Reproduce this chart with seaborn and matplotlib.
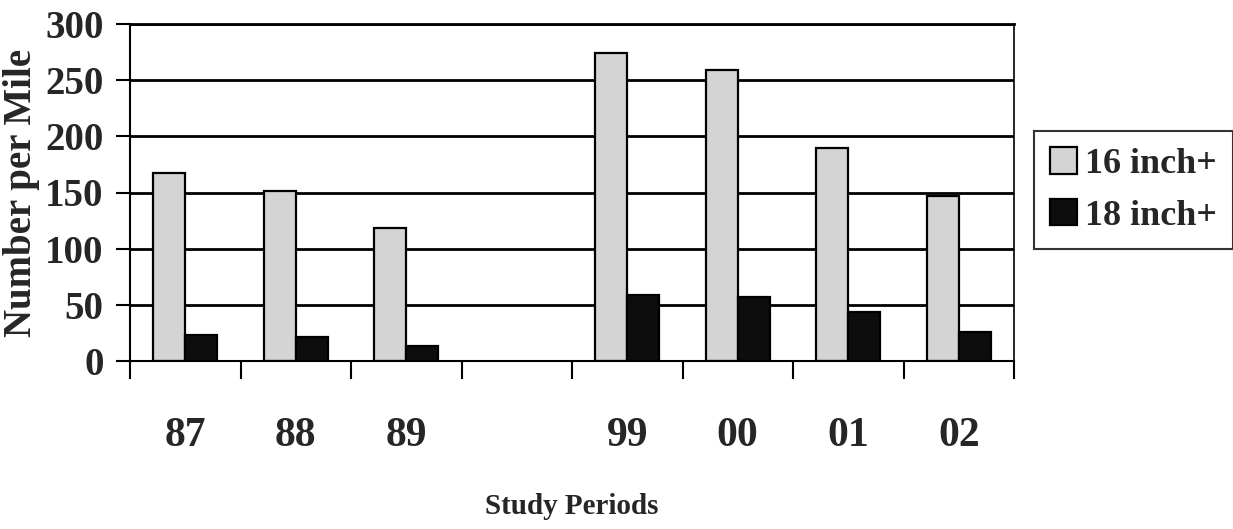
import numpy as np
import pandas as pd
import matplotlib
matplotlib.use("Agg")
import matplotlib.pyplot as plt
import seaborn as sns
from matplotlib.ticker import FixedLocator

# Study periods (blank slot separates the two survey eras)
periods = ["87", "88", "89", "", "99", "00", "01", "02"]
fish_16 = [167, 151, 118, np.nan, 274, 259, 190, 147]
fish_18 = [23, 21, 13, np.nan, 59, 57, 44, 26]
series = ["16 inch+", "18 inch+"]
y_ticks = [0, 50, 100, 150, 200, 250, 300]

df = pd.DataFrame({
    "period": periods * 2,
    "value": fish_16 + fish_18,
    "size": [series[0]] * len(periods) + [series[1]] * len(periods),
})

sns.set_theme(style="white")
plt.rcParams["font.family"] = ["Liberation Serif", "DejaVu Serif"]
plt.rcParams["font.weight"] = "bold"

fig = plt.figure(figsize=(12.33, 5.29), dpi=100)
ax = fig.add_axes([130 / 1233, 1 - 361 / 529, (1014 - 130) / 1233, (361 - 24) / 529])

sns.barplot(
    data=df, x="period", y="value", hue="size", order=periods, hue_order=series,
    palette=["#d4d4d4", "#0d0d0d"], width=0.58, ax=ax, errorbar=None,
    edgecolor="black", linewidth=1.6, saturation=1,
)

ax.set_ylim(0, 300)
ax.set_xlim(-0.5, len(periods) - 0.5)
ax.set_yticks(y_ticks)
ax.yaxis.grid(True, color="black", linewidth=2)
ax.set_axisbelow(True)

for side in ["left", "bottom", "right", "top"]:
    ax.spines[side].set_visible(True)
    ax.spines[side].set_color("black")
ax.spines["left"].set_linewidth(1.5)
ax.spines["bottom"].set_linewidth(1.5)
ax.spines["right"].set_linewidth(1.2)
ax.spines["top"].set_linewidth(2)

ax.tick_params(axis="y", which="major", length=10, width=1.5, direction="out",
               left=True, pad=9, labelsize=28, color="black")
ax.tick_params(axis="x", which="major", length=0, pad=40, labelsize=30)
ax.xaxis.set_minor_locator(FixedLocator(np.arange(-0.5, len(periods), 1.0)))
ax.tick_params(axis="x", which="minor", length=13, width=1.5, direction="out",
               bottom=True, color="black")
for lbl in ax.get_xticklabels() + ax.get_yticklabels():
    lbl.set_fontweight("bold")

ax.set_xlabel("Study Periods", fontsize=21, fontweight="bold", va="center")
ax.xaxis.set_label_coords(0.5, (361 - 506) / 337)
ax.set_ylabel("Number per Mile", fontsize=28, fontweight="bold", va="center")
ax.yaxis.set_label_coords((22 - 130) / 884, 0.5)

leg = ax.legend(
    loc="center left", bbox_to_anchor=(1034 / 1233, 1 - 190 / 529),
    bbox_transform=fig.transFigure, frameon=True, fancybox=False,
    fontsize=26, handlelength=0.75, handleheight=0.75, handletextpad=0.2,
    borderpad=0.45, labelspacing=0.5, borderaxespad=0,
)
leg.get_frame().set_edgecolor("black")
leg.get_frame().set_linewidth(1.5)
for t in leg.get_texts():
    t.set_fontweight("bold")

fig.savefig("out.png", dpi=100, facecolor="white")
